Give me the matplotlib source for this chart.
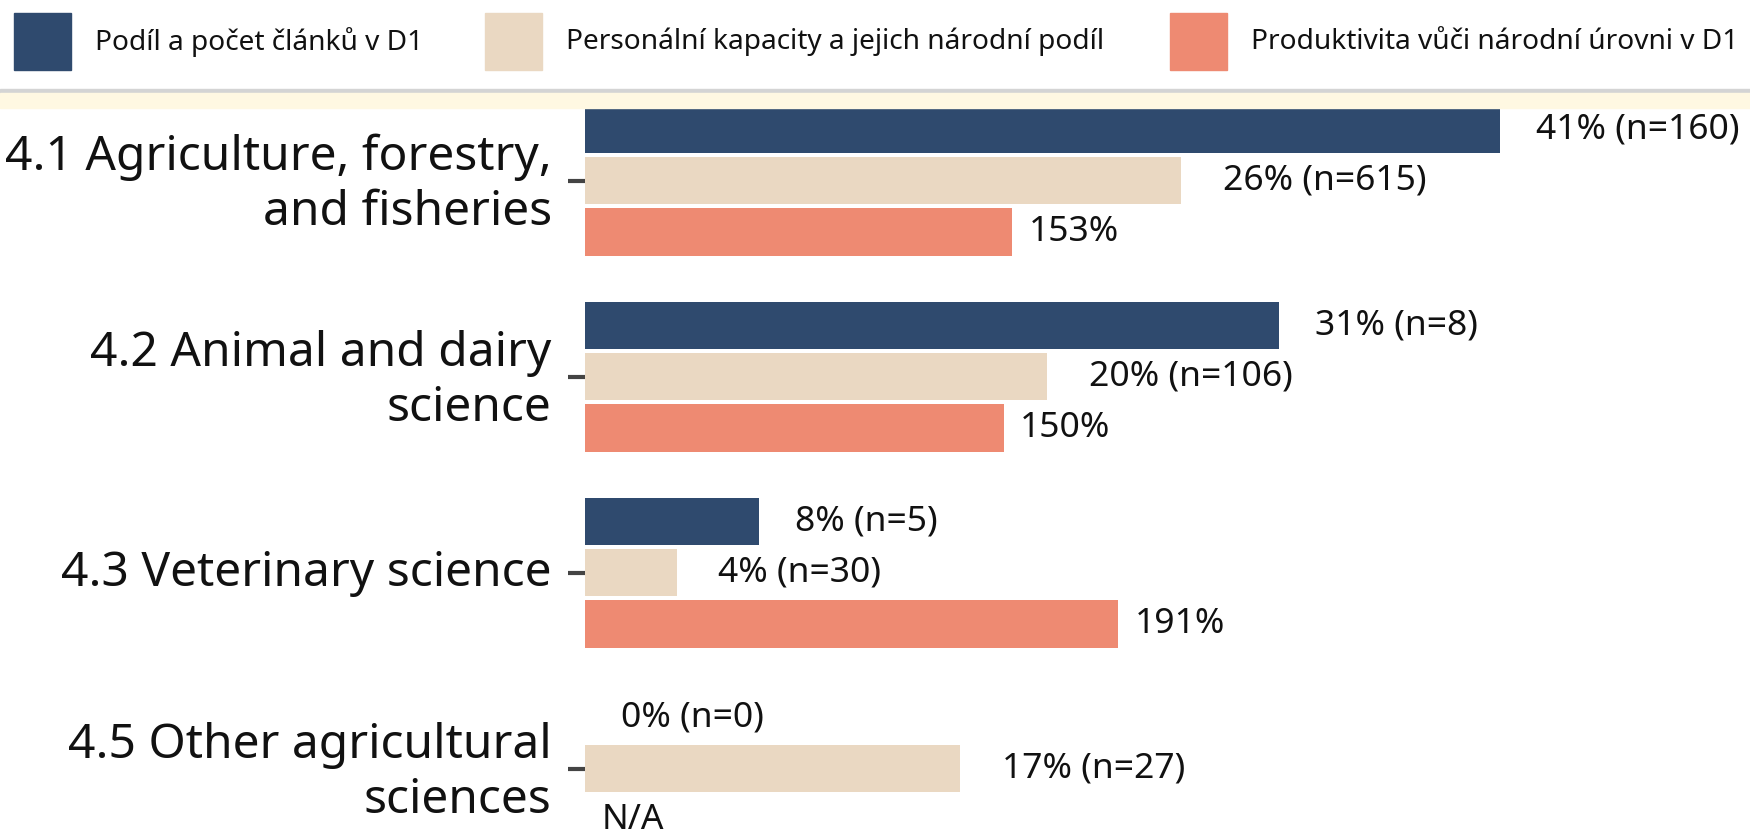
import numpy as np
import matplotlib
matplotlib.use("Agg")
import matplotlib.pyplot as plt
from matplotlib.patches import Rectangle
from matplotlib.transforms import ScaledTranslation

# ----- Data -----
categories = ["4.1 Agriculture, forestry,\nand fisheries",
              "4.2 Animal and dairy\nscience",
              "4.3 Veterinary science",
              "4.5 Other agricultural\nsciences"]

share_articles = [41.0, 31.1, 7.8, 0.0]        # bar lengths, %
share_articles_pct = [41, 31, 8, 0]            # label values
share_articles_n = [160, 8, 5, 0]

share_staff = [26.7, 20.7, 4.1, 16.8]
share_staff_pct = [26, 20, 4, 17]
share_staff_n = [615, 106, 30, 27]

productivity = [153, 150, 191, np.nan]         # % of national level
PROD_SCALE = 8.0                               # productivity drawn at 1/8

legend_labels = ["Podíl a počet článků v D1",
                 "Personální kapacity a jejich národní podíl",
                 "Produktivita vůči národní úrovni v D1"]
colors = ["#2F4A6E", "#EAD8C2", "#EE8A72"]

FONT = ["Noto Sans", "DejaVu Sans"]
plt.rcParams["font.family"] = FONT

W, H = 1750, 832
fig = plt.figure(figsize=(W / 100, H / 100), dpi=100)

# ----- Header: legend, grey rule, cream band -----
def fx(px):
    return px / W

def fy(py):
    return 1 - py / H

legend_x = [14, 485, 1170]
for x0, lab, c in zip(legend_x, legend_labels, colors):
    fig.patches.append(Rectangle((fx(x0), fy(70)), fx(57), 57 / H,
                                 transform=fig.transFigure, color=c))
    fig.text(fx(x0 + 81), fy(42), lab, fontsize=20.2, va="center",
             ha="left", color="#111111")

fig.patches.append(Rectangle((0, fy(93)), 1, 4 / H, transform=fig.transFigure,
                             color="#D4D4D4"))
fig.patches.append(Rectangle((0, fy(108)), 1, 15 / H, transform=fig.transFigure,
                             color="#FFF8E2"))

# ----- Bars -----
ax_top = 108
ax = fig.add_axes([585 / W, 0, 1 - 585 / W, 1 - ax_top / H])

y = np.arange(len(categories))
step = 0.2617
height = 0.24

prod_len = np.array(productivity, dtype=float) / PROD_SCALE

ax.barh(y - step, share_articles, height=height, color=colors[0])
ax.barh(y, share_staff, height=height, color=colors[1])
ax.barh(y + step, np.nan_to_num(prod_len), height=height, color=colors[2])

lab_size = 25.5
for i in range(len(categories)):
    ax.annotate(f"{share_articles_pct[i]}% (n={share_articles_n[i]})",
                (share_articles[i], y[i] - step), xytext=(26, 0),
                textcoords="offset points", va="center", ha="left",
                fontsize=lab_size, color="#111111", annotation_clip=False)
    ax.annotate(f"{share_staff_pct[i]}% (n={share_staff_n[i]})",
                (share_staff[i], y[i]), xytext=(30, 0),
                textcoords="offset points", va="center", ha="left",
                fontsize=lab_size, color="#111111", annotation_clip=False)
    if np.isnan(productivity[i]):
        txt, xv = "N/A", 0
    else:
        txt, xv = f"{int(productivity[i])}%", prod_len[i]
    ax.annotate(txt, (xv, y[i] + step), xytext=(12, 0),
                textcoords="offset points", va="center", ha="left",
                fontsize=lab_size, color="#111111", annotation_clip=False)

ax.set_xlim(0, 1165 / 22.32)
ax.set_ylim(3.323, -0.371)
ax.set_yticks(y)
ax.set_yticklabels(categories, fontsize=34.5, linespacing=1.21, color="#111111")
ax.tick_params(axis="y", length=12, width=3, color="#444444", pad=12)
shift = ScaledTranslation(0, 5 / 100, fig.dpi_scale_trans)
for t in ax.get_yticklabels():
    t.set_transform(t.get_transform() + shift)
ax.set_xticks([])
for s in ax.spines.values():
    s.set_visible(False)
ax.patch.set_alpha(0)

fig.savefig("out.png", dpi=100)
